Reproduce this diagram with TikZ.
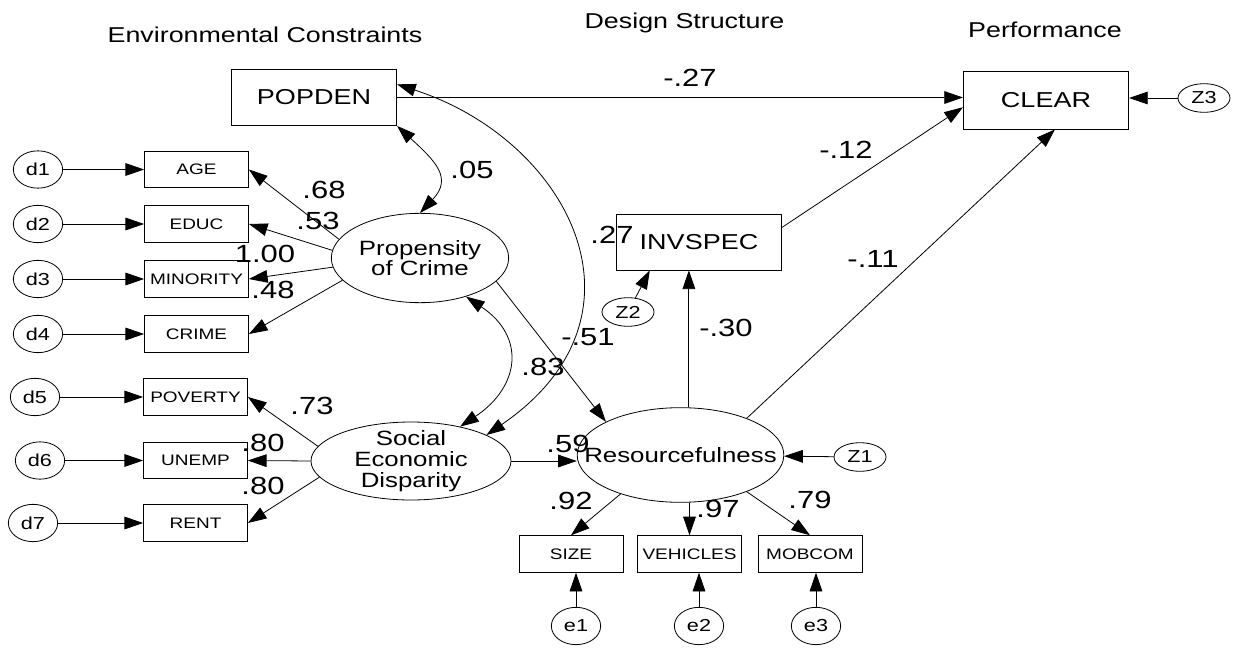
\documentclass[tikz,border=0pt]{standalone}
\usepackage{fontspec}
\setmainfont{Liberation Sans}[FakeStretch=1.25]
\usetikzlibrary{arrows.meta,shapes.geometric}

\begin{document}
\begin{tikzpicture}[x=0.75pt,y=-0.75pt,>={Triangle[length=14pt,width=9.5pt]},line width=0.6pt,
    obs/.style={draw,rectangle,inner sep=0,minimum width=78pt,minimum height=27.5pt,font=\fontsize{11.4}{12}\selectfont},
    big/.style={draw,rectangle,inner sep=0,minimum width=124pt,minimum height=42pt,font=\fontsize{16.2}{18}\selectfont},
    lat/.style={draw,ellipse,inner sep=0},
    lattext/.style={align=center,inner sep=0,font=\fontsize{15.5}{15.5}\selectfont},
    err/.style={draw,ellipse,inner sep=0,minimum width=37pt,minimum height=28pt,font=\fontsize{13}{14}\selectfont},
    dist/.style={draw,ellipse,inner sep=0,minimum width=39pt,minimum height=21.5pt,font=\fontsize{13}{14}\selectfont},
    coef/.style={inner sep=0,font=\fontsize{18.6}{20}\selectfont},
    head/.style={inner sep=0,anchor=base,font=\fontsize{16.1}{18}\selectfont}]
    \useasboundingbox (0,0) rectangle (1235,656);

    \node[head] (t-env) at (265,42.7) {Environmental Constraints};
    \node[head] (t-des) at (684.5,28.3) {Design Structure};
    \node[head] (t-perf) at (1045,37.3) {Performance};

    \node[big] (popden) at (314,97.5) {POPDEN};
    \node[big,minimum height=43.5pt] (clear) at (1046,100) {CLEAR};
    \node[big] (invspec) at (699,242) {INVSPEC};

    \node[obs] (age) at (196.5,169.5) {AGE};
    \node[obs] (educ) at (196.5,224) {EDUC};
    \node[obs] (minority) at (196.5,279) {MINORITY};
    \node[obs] (crime) at (196.5,334) {CRIME};
    \node[obs] (poverty) at (195.5,397) {POVERTY};
    \node[obs] (unemp) at (195.5,460.5) {UNEMP};
    \node[obs] (rent) at (195.5,523) {RENT};
    \node[obs] (size) at (571,554) {SIZE};
    \node[obs] (vehicles) at (689.5,554) {VEHICLES};
    \node[obs] (mobcom) at (810,554) {MOBCOM};

    \node[err] (d1) at (38,169.5) {d1};
    \node[err] (d2) at (38,224) {d2};
    \node[err] (d3) at (38,279) {d3};
    \node[err] (d4) at (38,334) {d4};
    \node[err] (d5) at (35,397) {d5};
    \node[err] (d6) at (40,460.5) {d6};
    \node[err] (d7) at (33,523) {d7};
    \node[err] (e1) at (576,626) {e1};
    \node[err] (e2) at (699,626) {e2};
    \node[err] (e3) at (816,626) {e3};
    \node[dist] (z1) at (860,457) {Z1};
    \node[dist] (z2) at (628,312) {Z2};
    \node[dist] (z3) at (1204,98) {Z3};

    \node[lat,minimum width=133pt,minimum height=67pt,label={[lattext]center:Propensity\\of Crime}] (crimeprop) at (420,258) {};
    \node[lat,minimum width=150pt,minimum height=58.5pt,label={[lattext]center:Social\\Economic\\Disparity}] (sed) at (411,461) {};
    \node[lat,minimum width=155pt,minimum height=71pt,label={[lattext]center:Resourcefulness}] (resource) at (680.5,455) {};

    \foreach \d/\b in {d1/age,d2/educ,d3/minority,d4/crime,d5/poverty,d6/unemp,d7/rent}
        \draw[->] (\d) -- (\b);
    \foreach \a/\b in {167/age,175/educ,186/minority,196/crime}
        \draw[->] (crimeprop.\a) -- (\b.east);
    \foreach \a/\b in {171/poverty,180/unemp,190/rent}
        \draw[->] (sed.\a) -- (\b.east);
    \foreach \e/\b in {e1/size,e2/vehicles,e3/mobcom}
        \draw[->] (\e) -- (\e |- \b.south);

    \draw[->] (popden.east) -- (popden.east -| clear.west);
    \draw[->] (invspec.10) -- (clear.185);
    \draw[->] (resource.29) -- (clear.-73);
    \draw[->] (z3) -- (z3 -| clear.east);
    \draw[->] (z1) -- (resource);
    \draw[->] (z2) -- (invspec.210);
    \draw[->] (resource.80) -- (resource.80 |- invspec.south);
    \draw[->] (crimeprop.343) -- (resource.156);
    \draw[->] (sed.east) -- (sed.east -| resource.west);
    \draw[->] (resource.213) -- (size.north);
    \draw[->] (vehicles |- resource.south) -- (vehicles);
    \draw[->] (resource.331) -- (mobcom.north);

    \draw[<->] (popden.south east) .. controls +(38,35) and +(33,-35) .. (crimeprop.north);
    \draw[<->] (popden.9) .. controls +(170,55) and +(175,-120) .. (sed.19);
    \draw[<->] (crimeprop.-40) .. controls +(60,40) and +(60,-40) .. (sed.35);

    \node[coef] (c-pop-clear) at (690,78) {-.27};
    \node[coef] (c-pop-prop) at (472,170) {.05};
    \node[coef] (c-age) at (324,190) {.68};
    \node[coef] (c-educ) at (318,221) {.53};
    \node[coef] (c-minority) at (265,254) {1.00};
    \node[coef] (c-crime) at (273,290) {.48};
    \node[coef] (c-poverty) at (312,406) {.73};
    \node[coef] (c-unemp) at (263,443) {.80};
    \node[coef] (c-rent) at (263,486) {.80};
    \node[coef] (c-prop-sed) at (543,367) {.83};
    \node[coef] (c-pop-sed) at (588,337) {-.51};
    \node[coef] (c-invspec) at (612,234.5) {.27};
    \node[coef] (c-res-inv) at (726,328) {-.30};
    \node[coef] (c-inv-clear) at (846,150) {-.12};
    \node[coef] (c-res-clear) at (873,259) {-.11};
    \node[coef] (c-resource) at (568,444) {.59};
    \node[coef] (c-size) at (571,501) {.92};
    \node[coef] (c-vehicles) at (718,509) {.97};
    \node[coef] (c-mobcom) at (810,500) {.79};
\end{tikzpicture}
\end{document}
